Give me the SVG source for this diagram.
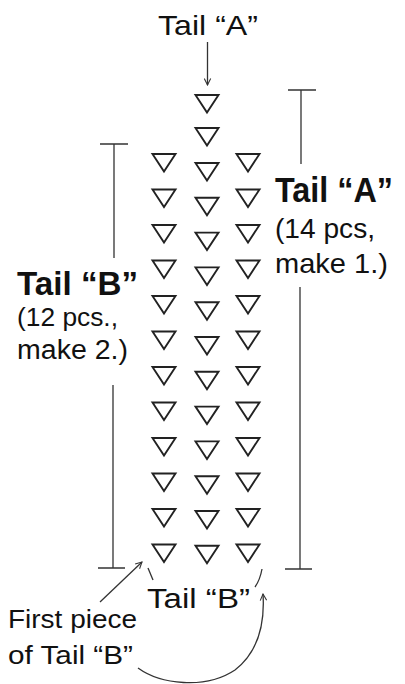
<svg xmlns="http://www.w3.org/2000/svg" xmlns:xlink="http://www.w3.org/1999/xlink" width="405" height="684" viewBox="0 0 405 684">
<style>
.t{font-family:"Liberation Sans",Arial,Helvetica,sans-serif;fill:#111}
.b{font-weight:bold}
.tri{fill:none;stroke:#222;stroke-width:1.9;stroke-linejoin:miter}
.ln{fill:none;stroke:#333;stroke-width:1.3}
</style>
<defs>
<path id="tri" class="tri" d="M-11.5,0 L11.5,0 L0,17.5 Z"/>
<marker id="ah" viewBox="0 0 10 10" refX="9" refY="5" markerWidth="8" markerHeight="8" orient="auto" markerUnits="userSpaceOnUse">
<path d="M1,1 L9,5 L1,9" fill="none" stroke="#333" stroke-width="1.3"/>
</marker>
</defs>
<rect width="405" height="684" fill="#fff"/>

<g id="col-center">
<use href="#tri" x="207" y="95"/>
<use href="#tri" x="207" y="128"/>
<use href="#tri" x="207" y="163"/>
<use href="#tri" x="207" y="197.8"/>
<use href="#tri" x="207" y="232.6"/>
<use href="#tri" x="207" y="267.4"/>
<use href="#tri" x="207" y="302.2"/>
<use href="#tri" x="207" y="337"/>
<use href="#tri" x="207" y="371.8"/>
<use href="#tri" x="207" y="406.6"/>
<use href="#tri" x="207" y="441.4"/>
<use href="#tri" x="207" y="476.2"/>
<use href="#tri" x="207" y="511"/>
<use href="#tri" x="207" y="545.8"/>
</g>
<g id="col-left">
<use href="#tri" x="164" y="154"/>
<use href="#tri" x="164" y="189.5"/>
<use href="#tri" x="164" y="225"/>
<use href="#tri" x="164" y="260.5"/>
<use href="#tri" x="164" y="296"/>
<use href="#tri" x="164" y="331.5"/>
<use href="#tri" x="164" y="367"/>
<use href="#tri" x="164" y="402.5"/>
<use href="#tri" x="164" y="438"/>
<use href="#tri" x="164" y="473.5"/>
<use href="#tri" x="164" y="509"/>
<use href="#tri" x="164" y="544.5"/>
</g>
<g id="col-right">
<use href="#tri" x="248" y="154"/>
<use href="#tri" x="248" y="189.5"/>
<use href="#tri" x="248" y="225"/>
<use href="#tri" x="248" y="260.5"/>
<use href="#tri" x="248" y="296"/>
<use href="#tri" x="248" y="331.5"/>
<use href="#tri" x="248" y="367"/>
<use href="#tri" x="248" y="402.5"/>
<use href="#tri" x="248" y="438"/>
<use href="#tri" x="248" y="473.5"/>
<use href="#tri" x="248" y="509"/>
<use href="#tri" x="248" y="544.5"/>
</g>

<g id="connectors">
<line class="ln" x1="207.5" y1="42" x2="207.5" y2="85" marker-end="url(#ah)"/>
<path class="ln" d="M288,90 H316 M301,90 V164 M300,287 V569 M285,569 H312"/>
<path class="ln" d="M100,144 H128 M114,144 V258 M113,385 V568 M98,568 H125"/>
<line class="ln" x1="100" y1="602" x2="142" y2="562" marker-end="url(#ah)"/>
<path class="ln" d="M148,568 L153,580"/>
<path class="ln" d="M262,569 Q260,580 255,587"/>
<path class="ln" d="M138,668 C160,684 205,690 235,670 C258,652 265,625 263,594" marker-end="url(#ah)"/>
</g>

<g id="label-top-A">
<text class="t" x="158" y="35" font-size="28" textLength="100" lengthAdjust="spacingAndGlyphs">Tail “A”</text>
</g>
<g id="label-right-A">
<text class="t b" x="275" y="202" font-size="35" textLength="118" lengthAdjust="spacingAndGlyphs">Tail “A”</text>
<text class="t" x="275" y="238" font-size="28" textLength="100" lengthAdjust="spacingAndGlyphs">(14 pcs,</text>
<text class="t" x="275" y="273" font-size="28" textLength="113" lengthAdjust="spacingAndGlyphs">make 1.)</text>
</g>
<g id="label-left-B">
<text class="t b" x="17" y="295" font-size="34" textLength="121" lengthAdjust="spacingAndGlyphs">Tail “B”</text>
<text class="t" x="17" y="326" font-size="26" textLength="101" lengthAdjust="spacingAndGlyphs">(12 pcs.,</text>
<text class="t" x="17" y="359" font-size="27" textLength="111" lengthAdjust="spacingAndGlyphs">make 2.)</text>
</g>
<g id="label-bottom-B">
<text class="t" x="147" y="608" font-size="27" textLength="103" lengthAdjust="spacingAndGlyphs">Tail “B”</text>
</g>
<g id="label-first">
<text class="t" x="8" y="628" font-size="26" textLength="129" lengthAdjust="spacingAndGlyphs">First piece</text>
<text class="t" x="8" y="664" font-size="26" textLength="125" lengthAdjust="spacingAndGlyphs">of Tail “B”</text>
</g>
</svg>
